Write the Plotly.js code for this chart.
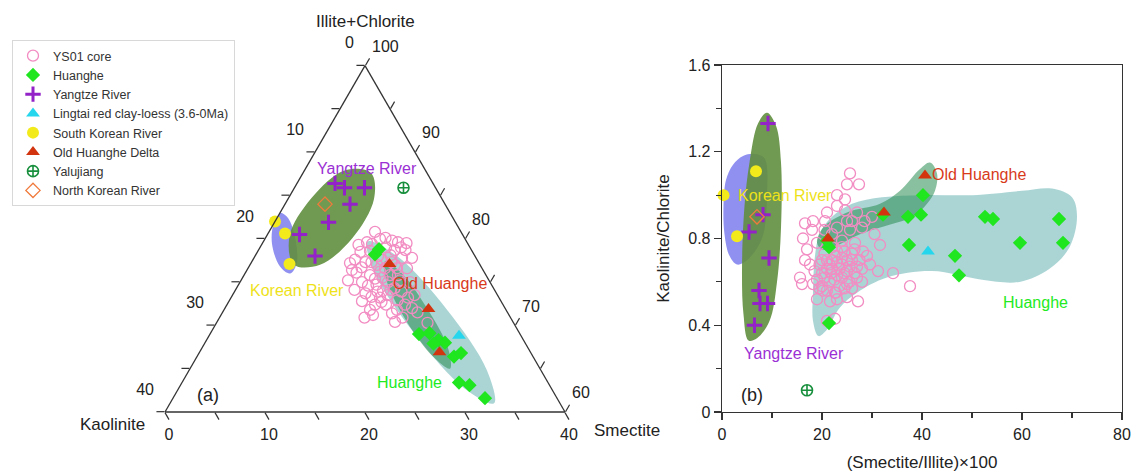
<!DOCTYPE html>
<html><head><meta charset="utf-8">
<script src="https://cdn.plot.ly/plotly-3.0.1.min.js"></script>
<style>html,body{margin:0;padding:0;background:#fff;}#chart{width:1133px;height:474px;}</style>
</head><body><div id="chart"></div>
<script>
// ---------- (a) ternary data: Kaolinite (K), Smectite (S); Illite+Chlorite = 100-K-S ----------
const ys01_tern_K = [8.6,10.0,6.9,6.1,7.7,12.2,12.9,12.0,12.8,10.7,9.5,7.4,7.5,11.3,11.8,12.7,12.8,12.0,11.0,10.3,9.8,9.3,11.6,10.8,13.6,8.6,13.9,14.6,14.0,14.1,8.4,6.9,7.4,8.5,9.7,9.7,8.7,8.8,10.2,12.4,10.4,9.9,9.4,8.0,10.2,9.6,11.2,10.9,8.3,9.0,
  9.6,7.9,11.2,8.4,11.3,10.3,8.5,11.6,10.5,8.9,12.8,11.5,10.4,13.1,11.9,9.1,11.7,13.6,11.8,13.1,6.4,11.0,6.6,8.5];
const ys01_tern_S = [10.6,10.4,13.5,14.4,13.6,10.2,9.9,11.3,11.1,12.0,12.9,14.8,15.9,13.3,14.3,14.0,14.8,15.3,15.5,16.8,17.8,18.7,17.0,18.3,15.2,21.1,13.3,14.5,11.9,10.7,12.6,14.1,12.8,11.5,12.3,13.7,14.0,15.4,14.8,13.0,13.4,15.8,16.7,17.0,11.2,14.6,14.8,17.3,18.2,19.5,
  11.0,12.0,10.3,13.5,11.4,12.7,14.5,12.6,14.0,15.9,12.2,13.8,15.5,13.2,14.9,17.7,15.9,14.6,17.8,10.5,15.8,9.7,14.7,14.9];
const huanghe_tern_K = [9.9,9.2,10.1,9.0,8.5,8.0,9.2,7.9,7.0,8.9,8.0,7.2];
const huanghe_tern_S = [11.9,12.0,20.9,21.9,23.2,24.0,22.9,25.7,26.2,27.7,28.9,31.2];
const yangtze_tern_K = [9.8,9.1,7.1,9.5,12.7,16.3,16.0];
const yangtze_tern_S = [3.8,5.0,7.0,6.5,5.4,3.2,6.0];
const lingtai_tern_K = [6.2];
const lingtai_tern_S = [25.0];
const skorea_tern_K = [18.0,17.7,19.0];
const skorea_tern_S = [0.0,1.7,3.9];
const oldhh_tern_K = [9.0,7.7,9.1];
const oldhh_tern_S = [13.9,20.4,24.0];
const yalu_tern_K = [3.2];
const yalu_tern_S = [10.9];
const nkorea_tern_K = [12.0];
const nkorea_tern_S = [4.0];

// field outlines in ternary (K, S)
const korea_field_tern_K = [19.5,18.3,17.0,16.5,17.0,18.3,19.6,20.1,19.5];
const korea_field_tern_S = [4.5,4.6,3.1,1.1,0.0,0.0,1.0,3.1,4.5];
const yangtze_field_tern_K = [5.6,6.8,11.2,16.0,18.6,17.4,13.0,8.1,5.6];
const yangtze_field_tern_S = [6.8,8.6,8.7,7.0,4.4,2.3,2.3,4.0,6.8];
const huanghe_field_tern_K = [6.6,5.4,5.9,7.8,9.9,11.0,10.5,8.7,6.6];
const huanghe_field_tern_S = [32.4,29.8,22.3,14.2,10.4,13.0,20.5,28.6,32.4];
const oldhh_field_tern_K = [9.0,8.0,7.8,8.3,9.3,10.3,10.6,10.0,9.0];
const oldhh_field_tern_S = [26.0,24.6,20.3,15.7,13.3,14.7,19.0,23.6,26.0];

// ternary tick values / labels
const aTickVals = [60,65,70,75,80,85,90,95,100];
const aTickText = ['40','','30','','20','','10','','0'];
const bTickVals = [0,5,10,15,20,25,30,35,40];
const bTickText = ['40','','30','','20','','10','','0'];
const cTickVals = [0,5,10,15,20,25,30,35,40];
const cTickText = ['100','','90','','80','','70','','60'];

// ---------- (b) scatter data: x = (Smectite/Illite)*100, y = Kaolinite/Chlorite ----------
const ys01_x = [25.6,25,27.4,24.6,24.6,26,28,16.6,18.2,20.6,23,16.2,18,25.6,24,26.6,31.6,28.2,16.6,17.6,29.6,31.2,34.2,15.6,16,18.2,37.6,20.2,22.6,25,27.2,21.6,19,22.6,21,
  21,22,23,24,25,20,22.5,26,27,23.5,21.5,24.5,19.5,25.5,28,22,26.5,20.5,23,24,21,25,27.5,19,22.8,26,24.5,20,29,18.5,
  23,21,19,27,28.5,30.5,22,25,17,30,23,20.5,
  20.5,21.5,22.5,23.5,24.5,25.5,26.5,22,23,24,20,21,23,25,27,19.5,21.8,24,26,28];
const ys01_y = [1.10,1.05,1.05,0.98,0.93,0.88,0.85,0.87,0.88,0.88,0.85,0.80,0.84,0.84,0.79,0.78,0.77,0.74,0.70,0.68,0.68,0.65,0.64,0.62,0.59,0.59,0.58,0.56,0.55,0.53,0.51,0.51,0.52,0.43,0.42,
  0.70,0.66,0.63,0.68,0.65,0.64,0.72,0.70,0.62,0.58,0.60,0.74,0.68,0.60,0.66,0.76,0.75,0.73,0.69,0.62,0.66,0.70,0.70,0.61,0.55,0.57,0.57,0.58,0.72,0.65,
  0.95,0.92,0.78,0.92,0.88,0.82,0.82,0.88,0.75,0.90,1.00,0.84,
  0.62,0.68,0.61,0.66,0.64,0.67,0.64,0.70,0.74,0.71,0.70,0.56,0.52,0.59,0.67,0.57,0.64,0.76,0.73,0.60];
const huanghe_x = [40.2,37.2,39.8,37.4,46.6,47.4,21.4,21.4,59.6,68.2,52.6,54.2,67.4,32.2,21.0];
const huanghe_y = [1.00,0.90,0.91,0.77,0.72,0.63,0.41,0.76,0.78,0.78,0.90,0.89,0.89,0.91,0.79];
const yangtze_x = [9.2,8.2,5.4,9.4,7.4,7.6,9.1,6.5];
const yangtze_y = [1.33,0.91,0.83,0.71,0.56,0.50,0.50,0.40];
const lingtai_x = [41.2];
const lingtai_y = [0.74];
const skorea_x = [0.3,6.8,3.0];
const skorea_y = [1.00,1.11,0.81];
const oldhh_x = [40.6,32.4,21.2];
const oldhh_y = [1.09,0.92,0.80];
const yalu_x = [17];
const yalu_y = [0.10];
const nkorea_x = [7.0];
const nkorea_y = [0.90];

// field outlines in (b)
const korea_field_x = [0.3,0.8,2.2,4.2,6.5,8.5,9,8,5,3,1.5,0.5,0.3];
const korea_field_y = [0.95,1.07,1.14,1.18,1.19,1.17,1.0,0.8,0.7,0.68,0.72,0.82,0.95];
const yangtze_field_x = [9.0,10.8,11.8,11.8,11,9.5,7,5.3,4.3,4.0,4.5,5.5,7.2,9.0];
const yangtze_field_y = [1.38,1.32,1.15,0.85,0.6,0.42,0.34,0.33,0.45,0.65,0.95,1.15,1.33,1.38];
const huanghe_field_x = [19.5,22,26,32,40,50,60,66,70,71,69.5,65.5,59.5,52,42,33,27,23.5,21,19.3,18.2,18.2,18.5,19.5];
const huanghe_field_y = [0.82,0.90,0.96,0.99,1.00,1.00,1.02,1.03,0.99,0.90,0.76,0.66,0.60,0.61,0.65,0.62,0.55,0.48,0.38,0.35,0.42,0.55,0.70,0.82];
const oldhh_field_x = [19,20.2,25,31.6,35.6,39.6,41.6,43,42.6,41,38.2,33,27.6,22.2,20,19];
const oldhh_field_y = [0.78,0.85,0.92,0.96,1.02,1.12,1.15,1.10,1.02,0.96,0.90,0.86,0.82,0.76,0.75,0.78];

// ---------- styles ----------
const FONT = 'Liberation Sans, Arial, sans-serif';
const C = {
  ys01:'#f28cc2', huanghe:'#1fe61f', yangtze:'#9322c8', lingtai:'#25d6ec', skorea:'#f3ea1c',
  oldhh:'#d2340f', yalu:'#178f3c', nkorea:'#f07a3c',
  fKorea:'rgba(135,135,240,0.92)', fYangtze:'rgba(96,142,62,0.9)', fHuanghe:'rgba(120,188,188,0.62)', fOld:'rgba(40,140,80,0.55)'
};
const IC = (K,S) => K.map((k,i)=>100-k-S[i]);

function tField(K,S,color){
  return {type:'scatterternary', mode:'lines', a:IC(K,S), b:K, c:S, fill:'toself', fillcolor:color,
    line:{width:0, color:color, shape:'spline', smoothing:1}, hoverinfo:'skip', showlegend:false};
}
function xyField(x,y,color){
  return {type:'scatter', mode:'lines', x:x, y:y, fill:'toself', fillcolor:color, xaxis:'x', yaxis:'y',
    line:{width:0, color:color, shape:'spline', smoothing:1}, hoverinfo:'skip', showlegend:false};
}
const series = [
  {name:'YS01 core', K:ys01_tern_K, S:ys01_tern_S, x:ys01_x, y:ys01_y, marker:{symbol:'circle-open', size:11, color:C.ys01, line:{width:1.3, color:C.ys01}}},
  {name:'Huanghe', K:huanghe_tern_K, S:huanghe_tern_S, x:huanghe_x, y:huanghe_y, marker:{symbol:'diamond', size:11, color:C.huanghe}},
  {name:'Yangtze River', K:yangtze_tern_K, S:yangtze_tern_S, x:yangtze_x, y:yangtze_y, marker:{symbol:'cross-thin', size:11, color:C.yangtze, line:{width:3, color:C.yangtze}}},
  {name:'Lingtai red clay-loess (3.6-0Ma)', K:lingtai_tern_K, S:lingtai_tern_S, x:lingtai_x, y:lingtai_y, marker:{symbol:'triangle-up', size:12, color:C.lingtai}},
  {name:'South Korean River', K:skorea_tern_K, S:skorea_tern_S, x:skorea_x, y:skorea_y, marker:{symbol:'circle', size:12, color:C.skorea}},
  {name:'Old Huanghe Delta', K:oldhh_tern_K, S:oldhh_tern_S, x:oldhh_x, y:oldhh_y, marker:{symbol:'triangle-up', size:12, color:C.oldhh}},
  {name:'Yalujiang', K:yalu_tern_K, S:yalu_tern_S, x:yalu_x, y:yalu_y, marker:{symbol:'circle-cross-open', size:11, color:C.yalu, line:{width:1.6, color:C.yalu}}},
  {name:'North Korean River', K:nkorea_tern_K, S:nkorea_tern_S, x:nkorea_x, y:nkorea_y, marker:{symbol:'diamond-open', size:11, color:C.nkorea, line:{width:1.3, color:C.nkorea}}}
];

const traces = [
  tField(korea_field_tern_K, korea_field_tern_S, C.fKorea),
  tField(yangtze_field_tern_K, yangtze_field_tern_S, C.fYangtze),
  tField(huanghe_field_tern_K, huanghe_field_tern_S, C.fHuanghe),
  tField(oldhh_field_tern_K, oldhh_field_tern_S, C.fOld),
  xyField(korea_field_x, korea_field_y, C.fKorea),
  xyField(yangtze_field_x, yangtze_field_y, C.fYangtze),
  xyField(huanghe_field_x, huanghe_field_y, C.fHuanghe),
  xyField(oldhh_field_x, oldhh_field_y, C.fOld)
];
series.forEach(s=>{
  traces.push({type:'scatterternary', mode:'markers', name:s.name, legendgroup:s.name,
    a:IC(s.K,s.S), b:s.K, c:s.S, marker:s.marker, cliponaxis:false});
});
series.forEach(s=>{
  traces.push({type:'scatter', mode:'markers', name:s.name, legendgroup:s.name, showlegend:false,
    x:s.x, y:s.y, marker:s.marker, cliponaxis:false, xaxis:'x', yaxis:'y'});
});

const W=1133, H=474;
const px = v=>v/W, py = v=>1-v/H;
// raise side labels so they sit above-outside their ticks, as in the reference
const lift = (arr, n)=>arr.map(t=> t==='' ? '' : t + '<br>&nbsp;'.repeat(n));
const tAxis = (min, vals, text)=>({min:min, tickmode:'array', tickvals:vals, ticktext:text, ticks:'outside', ticklen:8,
  tickcolor:'#333', tickwidth:1.2, linecolor:'#333', linewidth:1.3, showgrid:false, tickfont:{size:16, color:'#222'}, title:{text:''}});

function ann(text, x, y, color, size, ref){
  const a = {text:text, showarrow:false, font:{size:size, color:color, family:FONT}, xanchor:'center', yanchor:'middle'};
  if(ref==='paper'){ a.xref='paper'; a.yref='paper'; a.x=px(x); a.y=py(y); }
  else { a.xref='x'; a.yref='y'; a.x=x; a.y=y; }
  return a;
}

const layout = {
  width:W, height:H, margin:{l:0,r:0,t:0,b:0}, paper_bgcolor:'#fff', plot_bgcolor:'rgba(0,0,0,0)',
  font:{family:FONT, color:'#222'},
  showlegend:true,
  legend:{x:px(12), y:py(40), xanchor:'left', yanchor:'top', bgcolor:'#fff', bordercolor:'#d8d8d8', borderwidth:1,
    font:{size:12.5, color:'#333', family:FONT}, tracegroupgap:0},
  ternary:{domain:{x:[px(165), px(565)], y:[py(412), py(65.6)]}, sum:100, bgcolor:'rgba(0,0,0,0)',
    aaxis:tAxis(60, aTickVals, lift(aTickText,2)), baxis:tAxis(0, bTickVals, bTickText), caxis:tAxis(0, cTickVals, lift(cTickText,1))},
  xaxis:{domain:[px(722), px(1122)], range:[0,80], tick0:0, dtick:20, ticks:'outside', ticklen:7, tickwidth:1.2, tickcolor:'#333',
    linecolor:'#333', linewidth:1.3, mirror:true, showgrid:false, zeroline:false, anchor:'y',
    minor:{dtick:10, ticks:'outside', ticklen:5, tickwidth:1.2, tickcolor:'#333'},
    tickfont:{size:16, color:'#222'}, title:{text:'(Smectite/Illite)×100', font:{size:17, color:'#222'}, standoff:14}},
  yaxis:{domain:[py(412), py(65)], range:[0,1.6], tick0:0, dtick:0.4, ticks:'outside', ticklen:7, tickwidth:1.2, tickcolor:'#333',
    linecolor:'#333', linewidth:1.3, mirror:true, showgrid:false, zeroline:false, anchor:'x',
    minor:{dtick:0.2, ticks:'outside', ticklen:5, tickwidth:1.2, tickcolor:'#333'},
    tickfont:{size:16, color:'#222'}, title:{text:'Kaolinite/Chlorite', font:{size:17, color:'#222'}, standoff:14}},
  annotations:[
    ann('Illite+Chlorite', 365, 22, '#222', 17, 'paper'),
    ann('Kaolinite', 112, 424, '#222', 17, 'paper'),
    ann('Smectite', 627, 430, '#222', 17, 'paper'),
    ann('Yangtze River', 367, 168, '#9b30d4', 16, 'paper'),
    ann('Korean River', 297, 290, '#eee21a', 16, 'paper'),
    ann('Old Huanghe', 440, 283, '#d83a1a', 16, 'paper'),
    ann('Huanghe', 409, 382, '#22ea22', 16, 'paper'),
    ann('(a)', 208, 395, '#222', 18, 'paper'),
    ann('Korean River', 12.6, 1.00, '#eee21a', 16, 'xy'),
    ann('Old Huanghe', 51.3, 1.093, '#d83a1a', 16, 'xy'),
    ann('Huanghe', 62.6, 0.507, '#22ea22', 16, 'xy'),
    ann('Yangtze River', 14.4, 0.272, '#9b30d4', 16, 'xy'),
    ann('(b)', 6.0, 0.078, '#222', 18, 'xy')
  ]
};
Plotly.newPlot('chart', traces, layout, {displayModeBar:false, staticPlot:true});
</script></body></html>
